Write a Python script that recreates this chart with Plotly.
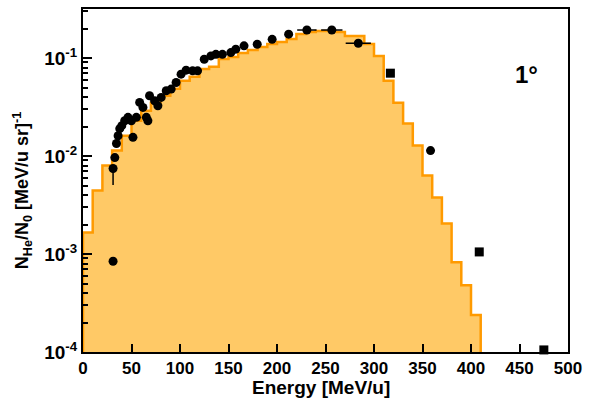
import plotly.graph_objects as go

# ---- data ----
bin_edges = [0, 10, 20, 30, 40, 50, 60, 70, 80, 90, 100, 110, 120, 130, 140, 150,
             160, 170, 180, 190, 200, 210, 220, 230, 240, 250, 260, 270, 280, 290,
             300, 310, 320, 330, 340, 350, 360, 370, 380, 390, 400, 410]
hist_values = [1.66e-3, 4.45e-3, 7.98e-3, 1.135e-2, 1.61e-2, 2.29e-2, 2.90e-2, 3.49e-2,
               4.11e-2, 4.85e-2, 5.85e-2, 6.43e-2, 7.74e-2, 8.12e-2, 9.79e-2, 0.1026,
               0.1127, 0.1209, 0.1297, 0.139, 0.1459, 0.1564, 0.176, 0.184, 0.1887,
               0.1887, 0.184, 0.168, 0.168, 0.139, 0.105, 0.0585, 0.0349, 0.0214,
               0.01277, 6.33e-3, 3.78e-3, 2.05e-3, 8.25e-4, 4.81e-4, 2.38e-4]

circle_E = [31.0, 32.8, 34.5, 36.2, 37.9, 40.0, 43.0, 46.4, 49.9, 51.5, 55.0, 58.4, 61.8,
            65.3, 66.9, 68.6, 73.8, 77.2, 80.6, 85.8, 90.9, 96.0, 101.1, 106.3, 113.0,
            118.1, 125.0, 131.9, 137.0, 143.7, 152.4, 157.5, 166.0, 179.6, 195.0, 212.0,
            230.8, 256.5, 283.8, 358.3, 31.0]
circle_N = [7.45e-3, 9.64e-3, 1.34e-2, 1.61e-2, 1.90e-2, 2.04e-2, 2.29e-2, 2.48e-2,
            2.29e-2, 1.55e-2, 2.48e-2, 3.52e-2, 3.13e-2, 2.48e-2, 2.29e-2, 4.12e-2,
            3.66e-2, 3.26e-2, 3.96e-2, 4.63e-2, 4.82e-2, 5.62e-2, 6.84e-2, 7.51e-2,
            7.39e-2, 7.39e-2, 9.72e-2, 0.105, 0.109, 0.109, 0.1135, 0.123, 0.133, 0.138,
            0.155, 0.175, 0.193, 0.193, 0.1415, 1.135e-2, 8.43e-4]
circle_dE = [0, 0, 0, 0, 0, 0, 0, 0, 0, 0, 0, 0, 0, 0, 0, 0, 0, 0, 0, 0, 0, 0, 0, 0, 0,
             0, 0, 0, 0, 0, 0, 0, 0, 0, 0, 0, 10, 11, 13, 0, 0]
circle_dN_minus = [2.4e-3] + [0] * 40

square_E = [316.9, 408.5, 475.1]
square_N = [7.0e-2, 1.05e-3, 1.05e-4]

y_tickvals = [1e-4, 1e-3, 1e-2, 1e-1]
y_ticktext = ["10<sup>-4</sup>", "10<sup>-3</sup>", "10<sup>-2</sup>", "10<sup>-1</sup>"]
x_tickvals = [0, 50, 100, 150, 200, 250, 300, 350, 400, 450, 500]

FILL = "#FFC966"
LINE = "#FF9A00"
FLOOR = 1e-6
FONT = "Liberation Sans, Arial, sans-serif"

# step outline built from bin edges/values
sx, sy = [bin_edges[0]], [FLOOR]
for i, v in enumerate(hist_values):
    sx += [bin_edges[i], bin_edges[i + 1]]
    sy += [v, v]
sx.append(bin_edges[-1])
sy.append(FLOOR)

fig = go.Figure()
fig.add_trace(go.Scatter(x=sx, y=sy, mode="lines", fill="toself", fillcolor=FILL,
                         line=dict(color=LINE, width=2.5), hoverinfo="skip",
                         showlegend=False))
fig.add_trace(go.Scatter(x=circle_E, y=circle_N, mode="markers",
                         marker=dict(symbol="circle", size=9, color="black"),
                         error_x=dict(type="data", array=circle_dE, color="black",
                                      thickness=1.5, width=0),
                         error_y=dict(type="data", array=[0] * len(circle_N),
                                      arrayminus=circle_dN_minus, symmetric=False,
                                      color="black", thickness=1.5, width=0),
                         showlegend=False))
fig.add_trace(go.Scatter(x=square_E, y=square_N, mode="markers", cliponaxis=False,
                         marker=dict(symbol="square", size=9, color="black"),
                         showlegend=False))

minor_vals = [k * 10 ** e for e in range(-4, 0) for k in range(2, 10)]

fig.update_xaxes(range=[0, 500], tickvals=x_tickvals, ticks="inside", ticklen=8,
                 tickwidth=1.5, tickcolor="black", showline=True, linewidth=2,
                 linecolor="black", mirror=True, showgrid=False, zeroline=False,
                 tickfont=dict(family=FONT, size=17, color="black", weight="bold"))
fig.update_yaxes(type="log", range=[-4, -0.5], tickvals=y_tickvals, ticktext=y_ticktext,
                 ticks="inside", ticklen=9, tickwidth=1.5, tickcolor="black",
                 minor=dict(tickvals=minor_vals, ticks="inside", ticklen=5,
                            tickcolor="black", tickwidth=1.5, showgrid=False),
                 showline=True, linewidth=2, linecolor="black", mirror=True,
                 showgrid=False, zeroline=False,
                 tickfont=dict(family=FONT, size=19, color="black", weight="bold"))

fig.update_layout(
    width=589, height=403,
    margin=dict(l=83, r=18, t=7, b=51),
    paper_bgcolor="white", plot_bgcolor="white",
    annotations=[
        dict(text="Energy [MeV/u]", xref="paper", yref="paper", x=0.49, y=-0.104,
             xanchor="center", yanchor="middle", showarrow=False,
             font=dict(family=FONT, size=19, color="black", weight="bold")),
        dict(text="N<sub>He</sub>/N<sub>0</sub> [MeV/u sr]<sup>-1</sup>",
             xref="paper", yref="paper", x=-0.125, y=0.47, textangle=-90,
             xanchor="center", yanchor="middle", showarrow=False,
             font=dict(family=FONT, size=18, color="black", weight="bold")),
        dict(text="1°", xref="paper", yref="paper", x=0.915, y=0.81,
             xanchor="center", yanchor="middle", showarrow=False,
             font=dict(family=FONT, size=24, color="black", weight="bold")),
    ],
)

fig.write_html("out.html")
